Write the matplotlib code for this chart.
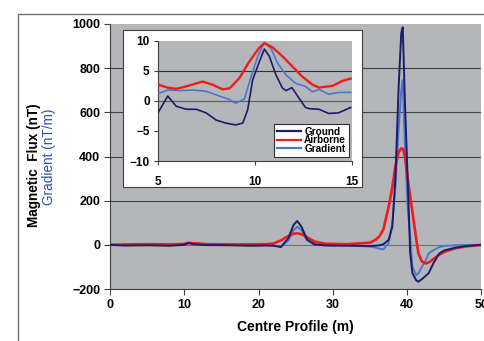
import matplotlib
matplotlib.use("Agg")
import matplotlib.pyplot as plt
from matplotlib.patches import Rectangle
import numpy as np

plt.rcParams['font.family'] = ['Liberation Sans', 'DejaVu Sans']

# ---- main chart data ----
x_main = [0, 2, 5, 8, 10, 10.5, 11.5, 13, 16, 19,
          21, 22, 23, 24, 24.7, 25.2, 25.8, 26.5, 27.5, 29,
          32, 35, 35.7, 36.3, 36.8, 37.5, 38.0, 38.4, 38.85, 39.2,
          39.4, 39.7, 40.1, 40.4, 40.7, 41.2, 41.5, 42.0, 42.5, 42.9,
          43.5, 44.3, 45, 46.5, 48, 50]
ground_main = [0, -3, -2, -4, 0, 8, 2, -1, -2, -4,
               -3, -4, -10, 30, 90, 108, 80, 25, 2, -3,
               -4, -5, -4, -2, 3, 22, 82, 293, 716, 960,
               985, 640, 263, -37, -128, -160, -167, -155, -140, -128,
               -85, -40, -25, -13, -5, 0]
airborne_main = [0, 2, 3, 2, 4, 9, 7, 3, 2, 2,
                 3, 6, 20, 40, 50, 52, 48, 35, 15, 5,
                 3, 10, 22, 40, 70, 172, 260, 354, 420, 437,
                 435, 400, 290, 220, 150, 30, -38, -76, -84, -80,
                 -65, -45, -32, -15, -7, 0]
gradient_main = [0, -2, 1, 0, 3, 9, 4, 2, 1, -2,
                 -1, -3, -8, 20, 65, 82, 65, 20, 3, -2,
                 -3, -8, -12, -18, -20, 8, 100, 260, 520, 700,
                 746, 444, 150, 40, -99, -137, -130, -99, -70, -38,
                 -25, -10, -5, -2, -1, 0]

# ---- inset data (x 5..15) ----
x_ground_in = [5.0, 5.5, 5.94, 6.46, 6.97, 7.48, 8.0, 8.5, 9.0, 9.37, 9.62, 9.88,
               10.2, 10.48, 10.74, 11.08, 11.42, 11.6, 11.9, 12.28, 12.6, 12.8,
               13.3, 13.8, 14.3, 14.93]
ground_in = [-2.0, 0.8, -0.9, -1.4, -1.4, -2.0, -3.2, -3.7, -4.0, -3.7, -1.5, 3.5,
             6.3, 8.6, 7.4, 4.3, 2.1, 1.7, 2.2, 0.4, -1.1, -1.3,
             -1.4, -2.1, -2.0, -1.1]
x_air_in = [5.0, 5.5, 5.94, 6.46, 6.97, 7.3, 7.8, 8.34, 8.7, 9.2, 9.7, 10.2,
            10.48, 10.9, 11.42, 11.93, 12.45, 12.96, 13.3, 14.0, 14.5, 14.93]
air_in = [2.7, 2.2, 2.0, 2.4, 2.9, 3.2, 2.7, 1.9, 2.1, 3.8, 6.5, 8.75,
          9.6, 8.9, 7.4, 5.7, 4.0, 2.7, 2.2, 2.5, 3.3, 3.7]
x_grad_in = [5.0, 5.5, 6.1, 6.8, 7.48, 8.17, 8.7, 9.0, 9.45, 9.8, 10.14, 10.48,
             10.82, 11.16, 11.6, 12.1, 12.6, 12.96, 13.3, 13.8, 14.3, 14.93]
grad_in = [1.2, 1.8, 1.7, 1.8, 1.6, 0.8, 0.2, -0.4, 0.3, 4.0, 7.4, 9.7,
           8.75, 6.3, 4.3, 2.9, 2.4, 1.5, 1.9, 1.1, 1.4, 1.4]

series_names = ["Ground", "Airborne", "Gradient"]
x_ticks_main = [0, 10, 20, 30, 40, 50]
y_ticks_main = [-200, 0, 200, 400, 600, 800, 1000]
x_ticks_in = [5, 10, 15]
y_ticks_in = [-10, -5, 0, 5, 10]

C_GROUND = "#1c1c6b"
C_AIR = "#f01c1c"
C_GRAD = "#4a78d0"
BG = "#b4b6b9"

W, H = 485, 341
fig = plt.figure(figsize=(W / 100, H / 100), dpi=100)
fig.patch.set_facecolor("white")


def rect(l, t, r, b):
    return [l / W, 1 - b / H, (r - l) / W, (b - t) / H]


# outer frame
fig.patches.append(Rectangle((18 / W, -0.1), 1.2, 1 - 14 / H + 0.1, transform=fig.transFigure,
                             fill=False, edgecolor="#707070", lw=1.0))

ax = fig.add_axes(rect(110, 24, 481.5, 289))
ax.set_facecolor(BG)
ax.plot(x_main, gradient_main, color=C_GRAD, lw=1.4, zorder=3)
ax.plot(x_main, airborne_main, color=C_AIR, lw=1.9, zorder=4)
ax.plot(x_main, ground_main, color=C_GROUND, lw=1.4, zorder=5)
ax.set_xlim(0, 50)
ax.set_ylim(-200, 1000)
ax.set_xticks(x_ticks_main)
ax.set_yticks(y_ticks_main)
for v in [0, 200, 400, 600, 800]:
    ax.axhline(v, color="#404040" if v else "#707070", lw=0.8, zorder=1)
for s in ["top", "right"]:
    ax.spines[s].set_visible(False)
for s in ["left", "bottom"]:
    ax.spines[s].set_color("#404040")
    ax.spines[s].set_linewidth(0.8)
ax.tick_params(direction="out", length=4, width=0.8, color="#404040",
               labelsize=9, pad=3)
for lab in ax.get_xticklabels() + ax.get_yticklabels():
    lab.set_fontweight("bold")
ax.set_xlabel("Centre Profile (m)", fontsize=10, fontweight="bold", labelpad=7)

fig.text(34 / W, 1 - 165 / H, "Magnetic  Flux (nT)", rotation=90, ha="center", va="center",
         fontsize=9.8, fontweight="bold", color="black")
fig.text(49 / W, 1 - 157 / H, "Gradient (nT/m)", rotation=90, ha="center", va="center",
         fontsize=9.8, color="#2f4fb0")

# inset white box
fig.patches.append(Rectangle((123 / W, 1 - 187 / H), (362 - 123) / W, (187 - 30) / H,
                             transform=fig.transFigure, facecolor="white",
                             edgecolor="#404040", lw=0.8, zorder=2))

axi = fig.add_axes(rect(158, 40.7, 352, 161), zorder=3)
axi.set_facecolor(BG)
axi.plot(x_grad_in, grad_in, color=C_GRAD, lw=1.2, zorder=3, label=series_names[2])
axi.plot(x_air_in, air_in, color=C_AIR, lw=1.7, zorder=4, label=series_names[1])
axi.plot(x_ground_in, ground_in, color=C_GROUND, lw=1.2, zorder=5, label=series_names[0])
axi.set_xlim(5, 15)
axi.set_ylim(-10, 10)
axi.set_xticks(x_ticks_in)
axi.set_yticks(y_ticks_in)
axi.axhline(5, color="#303030", lw=0.8, zorder=1)
axi.axhline(0, color="#606060", lw=0.9, zorder=1)
for s in ["top", "right"]:
    axi.spines[s].set_visible(False)
for s in ["left", "bottom"]:
    axi.spines[s].set_color("#404040")
    axi.spines[s].set_linewidth(0.8)
axi.tick_params(direction="out", length=3, width=0.8, color="#404040", labelsize=8.5, pad=3)
axi.tick_params(axis="x", pad=8)
for lab in axi.get_xticklabels() + axi.get_yticklabels():
    lab.set_fontweight("bold")
handles, labels = axi.get_legend_handles_labels()
order = [2, 1, 0]
leg = axi.legend([handles[i] for i in order], [labels[i] for i in order],
                 loc="lower right", bbox_to_anchor=(0.995, 0.02), fontsize=7.2,
                 frameon=True, fancybox=False, edgecolor="#303030", framealpha=1,
                 handlelength=2.4, handletextpad=0.3, labelspacing=-0.15,
                 borderpad=0.3, borderaxespad=0.2)
leg.get_frame().set_linewidth(0.8)
for t in leg.get_texts():
    t.set_fontweight("bold")
for ln in leg.get_lines():
    ln.set_linewidth(1.6)

fig.savefig("out.png", dpi=100)
